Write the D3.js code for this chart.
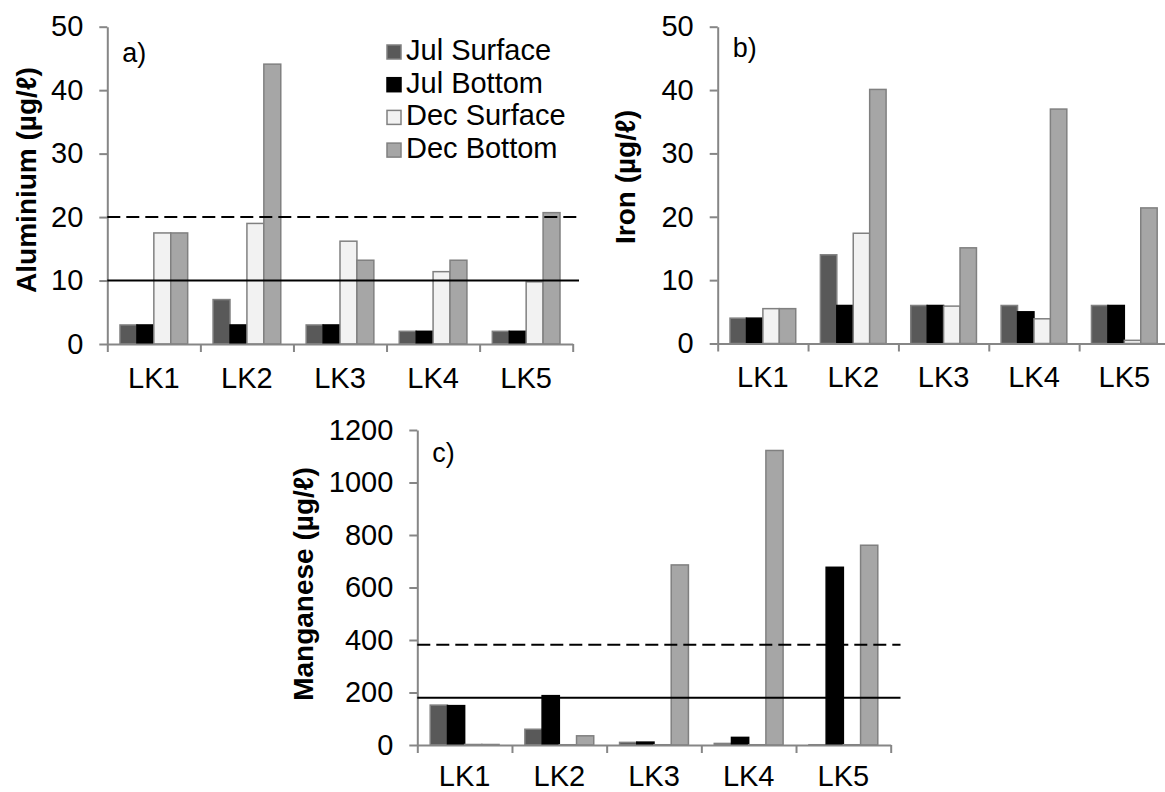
<!DOCTYPE html>
<html>
<head>
<meta charset="utf-8">
<script src="https://cdn.jsdelivr.net/npm/d3@7"></script>
<style>
  body { margin: 0; background: #fff; }
  text { font-family: Arial, "Liberation Sans", sans-serif; fill: #000; }
</style>
</head>
<body>
<svg id="chart" width="1165" height="792"></svg>
<script>
// categories and series
var lakes = ['LK1', 'LK2', 'LK3', 'LK4', 'LK5'];
var seriesNames = ['Jul Surface', 'Jul Bottom', 'Dec Surface', 'Dec Bottom'];
var seriesFill = ['#595959', '#000000', '#f2f2f2', '#a6a6a6'];
var seriesStroke = ['#808080', '#000000', '#808080', '#808080'];

// values per series (rows follow seriesNames, columns follow lakes)
var aluminium = [
  [3, 7, 3, 2, 2],
  [3, 3, 3, 2, 2],
  [17.5, 19, 16.2, 11.4, 9.8],
  [17.5, 44.1, 13.2, 13.2, 20.7]
];
var iron = [
  [4, 14, 6, 6, 6],
  [4, 6, 6, 5, 6],
  [5.5, 17.4, 5.9, 3.9, 0.5],
  [5.5, 40.1, 15.1, 37, 21.4]
];
var manganese = [
  [152, 60, 10, 6, 1],
  [150, 188, 11, 29, 677],
  [2, 1, 1, 1, 1],
  [2, 35, 686, 1122, 761]
];

// guideline values: [solid, dashed]
var alGuides = [10, 20];
var mnGuides = [180, 382];

var ticks50 = [0, 10, 20, 30, 40, 50];
var ticks1200 = [0, 200, 400, 600, 800, 1000, 1200];

var svg = d3.select('#chart');

function drawPanel(svg, p) {
  var g = svg.append('g');
  var x = d3.scaleBand().domain(lakes).range([p.left, p.right]);
  var xs = d3.scaleBand().domain(seriesNames).range([0, x.bandwidth()]).paddingOuter(0.75);
  var y = d3.scaleLinear().domain([0, p.max]).range([p.bottom, p.top]);

  // bars
  seriesNames.forEach(function(s, i) {
    g.selectAll('.bar' + i)
      .data(p.values[i])
      .enter()
      .append('rect')
        .attr('x', (d, j) => x(lakes[j]) + xs(s))
        .attr('y', d => y(d))
        .attr('width', xs.bandwidth())
        .attr('height', d => y(0) - y(d))
        .attr('fill', seriesFill[i])
        .attr('stroke', seriesStroke[i])
        .attr('stroke-width', 1.5);
  });

  // y axis
  var yAxis = g.append('g')
    .attr('transform', 'translate(' + p.left + ',0)')
    .call(d3.axisLeft(y).tickValues(p.ticks).tickFormat(d3.format('d'))
      .tickSize(8).tickSizeOuter(0).tickPadding(16));
  yAxis.selectAll('text').style('font-size', '29px');

  // x axis: ticks at category boundaries, labels at centers
  var idx = d3.scaleLinear().domain([0, lakes.length]).range([p.left, p.right]);
  g.append('g')
    .attr('transform', 'translate(0,' + p.bottom + ')')
    .call(d3.axisBottom(idx).tickValues(d3.range(lakes.length + 1)).tickSize(8).tickSizeOuter(0).tickFormat(''));
  var xLab = g.append('g')
    .attr('transform', 'translate(0,' + p.bottom + ')')
    .call(d3.axisBottom(x).tickSize(0).tickPadding(p.labelPad || 23));
  xLab.select('.domain').remove();
  xLab.selectAll('text').style('font-size', '29px');

  g.selectAll('.domain, .tick line').attr('stroke', '#868686').attr('stroke-width', 2);

  // guidelines
  if (p.guides) {
    g.selectAll('.guide')
      .data(p.guides)
      .enter()
      .append('line')
        .attr('x1', p.left)
        .attr('x2', p.lineEnd)
        .attr('y1', d => y(d))
        .attr('y2', d => y(d))
        .attr('stroke', '#000')
        .attr('stroke-width', 2)
        .attr('stroke-dasharray', (d, i) => i === 1 ? '13,6' : null);
  }

  // axis title
  g.append('text')
    .attr('transform', 'translate(' + p.titleX + ',' + p.titleY + ') rotate(-90)')
    .attr('text-anchor', 'middle')
    .style('font-size', '28px')
    .style('font-weight', 'bold')
    .text(p.title);

  // panel letter
  g.append('text')
    .attr('x', p.left + 15)
    .attr('y', p.letterY)
    .style('font-size', '27px')
    .text(p.letter);

  return g;
}

drawPanel(svg, {
  left: 107.3, right: 572.7, top: 26.7, bottom: 344, max: 50,
  ticks: ticks50, values: aluminium, guides: alGuides, lineEnd: 579,
  title: 'Aluminium (µg/ℓ)', titleX: 36, titleY: 180, letter: 'a)', letterY: 62
});

drawPanel(svg, {
  left: 717.7, right: 1169.5, top: 26.7, bottom: 343.5, max: 50,
  ticks: ticks50, values: iron, guides: null,
  title: 'Iron (µg/ℓ)', titleX: 635, titleY: 177, letter: 'b)', letterY: 57
});

drawPanel(svg, {
  left: 417.3, right: 890.7, top: 430, bottom: 745, max: 1200,
  ticks: ticks1200, values: manganese, guides: mnGuides, lineEnd: 900.5,
  title: 'Manganese (µg/ℓ)', titleX: 313, titleY: 584, letter: 'c)', letterY: 462,
  labelPad: 20
});

// legend (panel a)
var legend = svg.append('g');
seriesNames.forEach(function(s, i) {
  var by = 60 + i * 32.7;
  legend.append('rect')
    .attr('x', 387).attr('y', by - 15)
    .attr('width', 14).attr('height', 14)
    .attr('fill', seriesFill[i])
    .attr('stroke', seriesStroke[i])
    .attr('stroke-width', 1.5);
  legend.append('text')
    .attr('x', 406).attr('y', by)
    .style('font-size', '29px')
    .text(s);
});
</script>
</body>
</html>
